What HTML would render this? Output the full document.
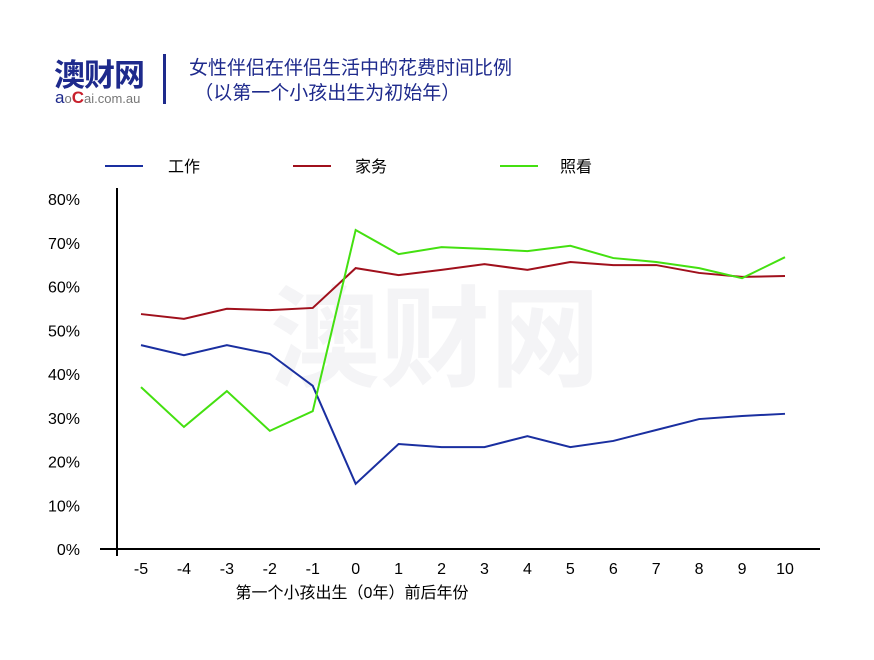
<!DOCTYPE html>
<html><head><meta charset="utf-8"><style>
body{margin:0;background:#fff;font-family:"Liberation Sans","Noto Sans CJK SC",sans-serif;}
#wrap{position:relative;width:874px;height:660px;overflow:hidden;background:#fff}
.abs{position:absolute;white-space:nowrap}
</style></head><body>
<div id="wrap">
<div class="abs" style="left:54px;top:50px;font-size:31px;font-weight:bold;color:#1e2a8c;letter-spacing:-1px">澳财网</div>
<div class="abs" style="left:55px;top:88px;font-size:13px;color:#777"><span style="color:#1e2a8c;font-size:17px">a</span>o<span style="color:#c8202c;font-size:17px;font-weight:bold">C</span>ai.com.au</div>
<div class="abs" style="left:163px;top:54px;width:3px;height:50px;background:#1e2a8c"></div>
<div class="abs" style="left:189px;top:56px;font-size:19px;color:#1e2a8c;line-height:25px">女性伴侣在伴侣生活中的花费时间比例<br>&nbsp;（以第一个小孩出生为初始年）</div>
<div class="abs" style="left:270px;top:250px;font-size:110px;font-weight:bold;color:#f4f4f6">澳财网</div>
<svg width="874" height="660" style="position:absolute;left:0;top:0" id="svg"></svg>
</div>
<script>
const years=[-5,-4,-3,-2,-1,0,1,2,3,4,5,6,7,8,9,10];
const work=[46.6,44.3,46.6,44.6,37.3,14.9,24,23.3,23.3,25.8,23.3,24.7,27.2,29.7,30.4,30.9];
const house=[53.7,52.6,54.9,54.6,55.1,64.2,62.6,63.8,65.1,63.8,65.6,64.9,64.9,63.1,62.2,62.4];
const care=[37,27.9,36.1,27,31.5,72.9,67.4,69,68.6,68.1,69.3,66.5,65.6,64.2,61.9,66.7];
const yTicks=[0,10,20,30,40,50,60,70,80];
const seriesNames=["工作","家务","照看"];
const colors=["#1a2fa0","#a0101c","#44e010"];
const NS="http://www.w3.org/2000/svg",svg=document.getElementById('svg');
const X=v=>141+(v+5)*(785-141)/15;
const Y=v=>549-v*(549-199)/80;
function mk(t,a,txt){const e=document.createElementNS(NS,t);for(const k in a)e.setAttribute(k,a[k]);if(txt!==undefined)e.textContent=txt;svg.appendChild(e);return e;}
let e=mk('line',{x1:117,y1:188,x2:117,y2:556,stroke:'#000','stroke-width':2});


e=mk('line',{x1:100,y1:549,x2:820,y2:549,stroke:'#000','stroke-width':2});


yTicks.forEach(t=>{const l=mk('text',{x:80,y:Y(t)+6,'text-anchor':'end','font-size':16,fill:'#000'},t+'%');

});
years.forEach(v=>{const l=mk('text',{x:X(v),y:574,'text-anchor':'middle','font-size':16,fill:'#000'},String(v));

});
e=mk('text',{x:352,y:598,'text-anchor':'middle','font-size':16,fill:'#000'},'第一个小孩出生（0年）前后年份');


[work,house,care].forEach((s,i)=>{
 const p=mk('polyline',{points:s.map((v,j)=>X(years[j])+','+Y(v)).join(' '),fill:'none',stroke:colors[i],'stroke-width':2});
 
 
 const lx=[105,293,500][i];
 const ll=mk('line',{x1:lx,y1:166,x2:lx+38,y2:166,stroke:colors[i],'stroke-width':2});
 
 
 const lt=mk('text',{x:[168,355,560][i],y:172,'font-size':16,fill:'#000'},seriesNames[i]);
 
 
});
</script>
</body></html>
